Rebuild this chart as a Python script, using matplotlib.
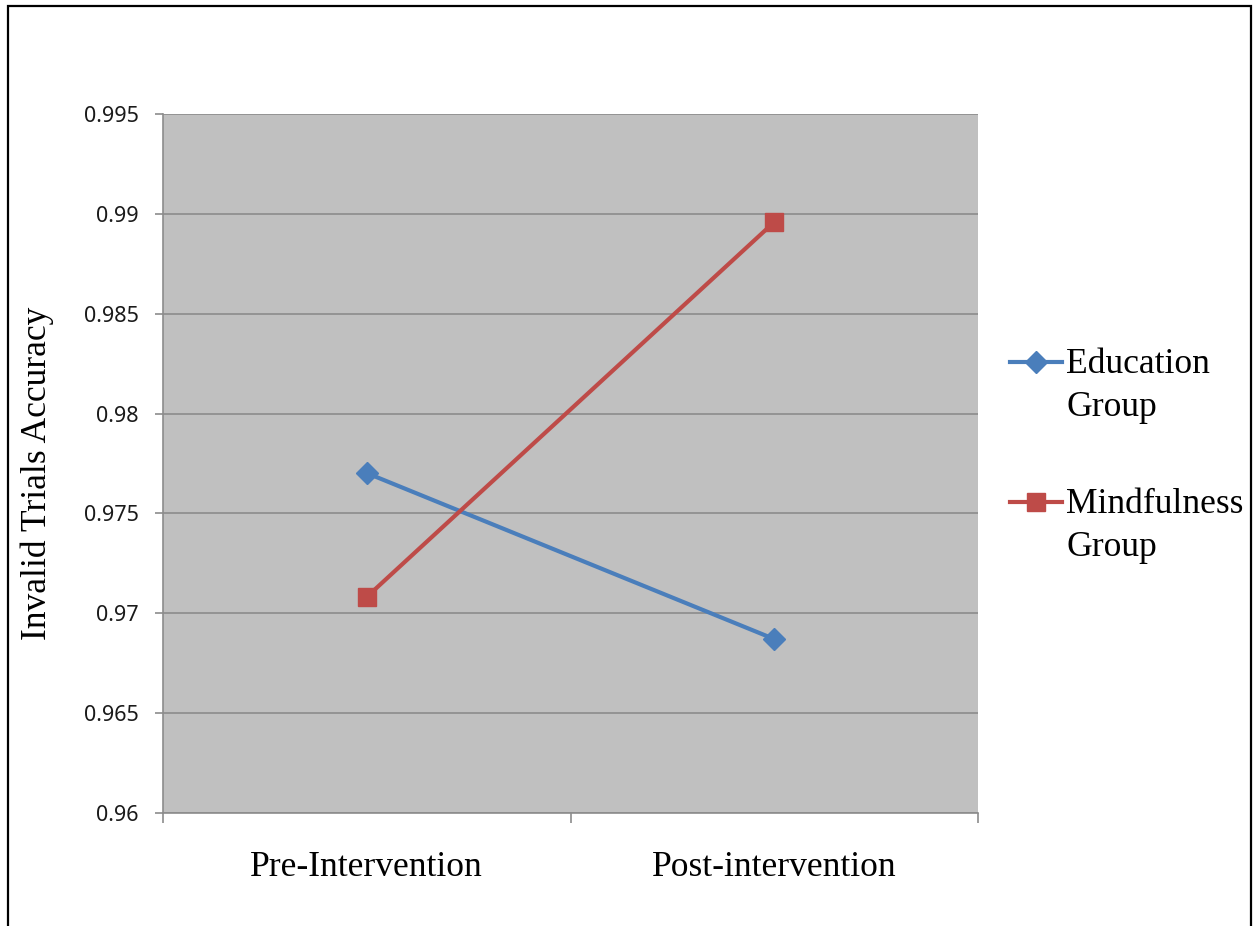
import matplotlib
matplotlib.use("Agg")
import matplotlib.pyplot as plt
from matplotlib.lines import Line2D
from matplotlib.patches import Rectangle

categories = ["Pre-Intervention", "Post-intervention"]
education = [0.97702, 0.96871]
mindfulness = [0.97082, 0.98959]
series_names = ["Education\nGroup", "Mindfulness\nGroup"]
yticks = [0.96, 0.965, 0.97, 0.975, 0.98, 0.985, 0.99, 0.995]
ytick_labels = ["0.96", "0.965", "0.97", "0.975", "0.98", "0.985", "0.99", "0.995"]

W, H = 1255, 926
fig = plt.figure(figsize=(W / 100, H / 100), dpi=100)
ax = fig.add_axes([163 / W, 1 - 813 / H, (978 - 163) / W, (813 - 114) / H])

blue = "#4A7EBB"
red = "#BE4B48"
serif = "Liberation Serif"
FS = 25.6

ax.set_facecolor("#C0C0C0")
x = list(range(len(categories)))
ax.plot(x, education, color=blue, lw=3.0, marker="D", ms=11.5, mfc=blue, mec=blue, zorder=3,
        solid_capstyle="round")
ax.plot(x, mindfulness, color=red, lw=3.0, marker="s", ms=13, mfc=red, mec=red, zorder=3,
        solid_capstyle="round")

ax.set_xlim(-0.5, 1.5)
ax.set_ylim(0.96, 0.995)
ax.set_yticks(yticks)
ax.set_yticklabels(ytick_labels, fontfamily="Noto Sans", fontsize=15.5, color="#1a1a1a")
ax.set_xticks(x)
ax.set_xticklabels(categories, fontfamily=serif, fontsize=FS)
ax.set_xticks([-0.5, 0.5, 1.5], minor=True)
ax.tick_params(axis="x", which="major", length=0, pad=27)
ax.tick_params(axis="x", which="minor", length=7.5, width=1.2, color="#8c8c8c", direction="out")
ax.tick_params(axis="y", which="major", length=5.5, width=1.2, color="#8c8c8c", pad=12)

ax.grid(axis="y", color="#8c8c8c", lw=1.2, zorder=1)
ax.set_axisbelow(True)
for s in ["top", "right"]:
    ax.spines[s].set_visible(False)
for s in ["left", "bottom"]:
    ax.spines[s].set_color("#8c8c8c")
    ax.spines[s].set_linewidth(1.2)

ax.set_ylabel("Invalid Trials Accuracy", fontfamily=serif, fontsize=FS)
ax.yaxis.set_label_coords((37 - 163) / (978 - 163), (813 - 473) / (813 - 114))
ax.yaxis.label.set_va("center")

# legend (handle aligned with first line of each label)
def fy(py):
    return 1 - py / H

for col, mk, ms, name, py in [(blue, "D", 11.5, series_names[0], 362),
                              (red, "s", 13, series_names[1], 502)]:
    fig.add_artist(Line2D([1010 / W, 1062 / W], [fy(py), fy(py)], color=col, lw=3.0,
                          transform=fig.transFigure))
    fig.add_artist(Line2D([1036 / W], [fy(py)], color=col, marker=mk, ms=ms, mfc=col, mec=col,
                          transform=fig.transFigure))
    first, second = name.split("\n")
    fig.text(1066 / W, fy(py + 11), first, fontfamily=serif, fontsize=FS, va="baseline", ha="left")
    fig.text(1066 / W, fy(py + 54), second, fontfamily=serif, fontsize=FS, va="baseline", ha="left")

# outer border
fig.add_artist(Rectangle((8 / W, -0.05), (1251 - 8) / W, fy(6) + 0.05, transform=fig.transFigure,
                         fill=False, ec="black", lw=1.6))

fig.savefig("out.png", dpi=100)
